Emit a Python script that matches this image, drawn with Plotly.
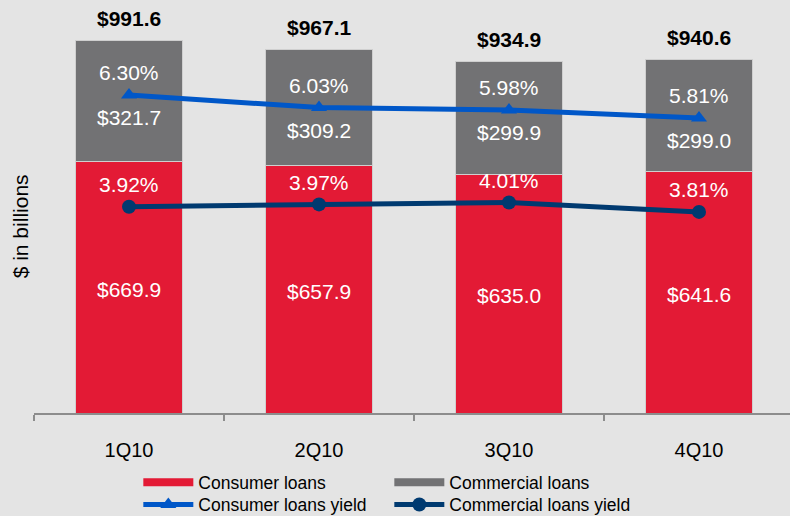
import plotly.graph_objects as go

categories = ["1Q10", "2Q10", "3Q10", "4Q10"]
consumer_loans = [669.9, 657.9, 635.0, 641.6]
commercial_loans = [321.7, 309.2, 299.9, 299.0]
consumer_yield = [6.30, 6.03, 5.98, 5.81]
commercial_yield = [3.92, 3.97, 4.01, 3.81]

FONT = "Liberation Sans, Arial, sans-serif"
RED = "#E31A35"
GRAY = "#727274"
BLUE = "#0057C8"
NAVY = "#003A70"
BG = "#E4E4E4"

fig = go.Figure()
fig.add_trace(go.Bar(x=categories, y=consumer_loans, name="Consumer loans",
                     marker=dict(color=RED, line=dict(color="#CFCFCF", width=1)),
                     width=0.56, showlegend=False))
fig.add_trace(go.Bar(x=categories, y=commercial_loans, name="Commercial loans",
                     marker=dict(color=GRAY, line=dict(color="#CFCFCF", width=1)),
                     width=0.56, showlegend=False))
# legend swatches for the bars (wide rectangles like the original)
fig.add_trace(go.Scatter(x=[None], y=[None], name="Consumer loans", mode="lines",
                         line=dict(color=RED, width=8), legend="legend"))
fig.add_trace(go.Scatter(x=[None], y=[None], name="Commercial loans", mode="lines",
                         line=dict(color=GRAY, width=8), legend="legend"))
fig.add_trace(go.Scatter(x=categories, y=consumer_yield, name="Consumer loans yield",
                         mode="lines+markers", yaxis="y2",
                         line=dict(color=BLUE, width=5),
                         marker=dict(symbol="triangle-up", size=14, color=BLUE),
                         legend="legend2"))
fig.add_trace(go.Scatter(x=categories, y=commercial_yield, name="Commercial loans yield",
                         mode="lines+markers", yaxis="y2",
                         line=dict(color=NAVY, width=5),
                         marker=dict(symbol="circle", size=14, color=NAVY),
                         legend="legend2"))

annotations = []
for c, a, b in zip(categories, consumer_loans, commercial_loans):
    total = a + b
    annotations.append(dict(x=c, y=total, yref="y", text=f"<b>${total:.1f}</b>",
                            showarrow=False, yshift=22, font=dict(size=21, color="black", family=FONT)))
    annotations.append(dict(x=c, y=a / 2, yref="y", text=f"${a:.1f}",
                            showarrow=False, yshift=-2, font=dict(size=21, color="white", family=FONT)))
for c, v, cy in zip(categories, commercial_loans, consumer_yield):
    annotations.append(dict(x=c, y=cy, yref="y2", text=f"${v:.1f}",
                            showarrow=False, yshift=-23, font=dict(size=21, color="white", family=FONT)))
for ys in (consumer_yield, commercial_yield):
    for c, v in zip(categories, ys):
        annotations.append(dict(x=c, y=v, yref="y2", text=f"{v:.2f}%",
                                showarrow=False, yshift=22, font=dict(size=21, color="white", family=FONT)))
annotations.append(dict(x=0, y=0.452, xref="paper", yref="paper", xshift=-14, text="$ in billions",
                        textangle=-90, showarrow=False, xanchor="center", yanchor="middle",
                        font=dict(size=21, color="black", family=FONT)))

legend_common = dict(orientation="h", xanchor="left", yanchor="middle",
                     entrywidth=186, entrywidthmode="pixels", itemwidth=50,
                     font=dict(size=17.5, color="black", family=FONT),
                     bgcolor="rgba(0,0,0,0)", traceorder="normal")

fig.update_layout(
    width=790, height=516,
    margin=dict(l=34, r=0, t=0, b=103, autoexpand=False),
    paper_bgcolor=BG, plot_bgcolor=BG,
    barmode="stack",
    font=dict(family=FONT, color="black"),
    showlegend=True,
    legend=dict(x=0.138, y=-0.168, **legend_common),
    legend2=dict(x=0.138, y=-0.222, **legend_common),
    xaxis=dict(type="category", range=[-0.5, 3.479], showgrid=False,
               showline=True, linecolor="#8C8C8C", linewidth=2,
               ticks="outside", tickson="boundaries", ticklen=6, tickcolor="#8C8C8C", tickwidth=2,
               tickfont=dict(size=20, color="black", family=FONT), ticklabelstandoff=18),
    yaxis=dict(range=[0, 1098], visible=False, showgrid=False, zeroline=False),
    yaxis2=dict(range=[-0.47, 8.32], overlaying="y", visible=False, showgrid=False, zeroline=False),
    annotations=annotations,
)

fig.write_html("out.html", config={"displayModeBar": False},
               post_script="document.body.style.margin='0';")
